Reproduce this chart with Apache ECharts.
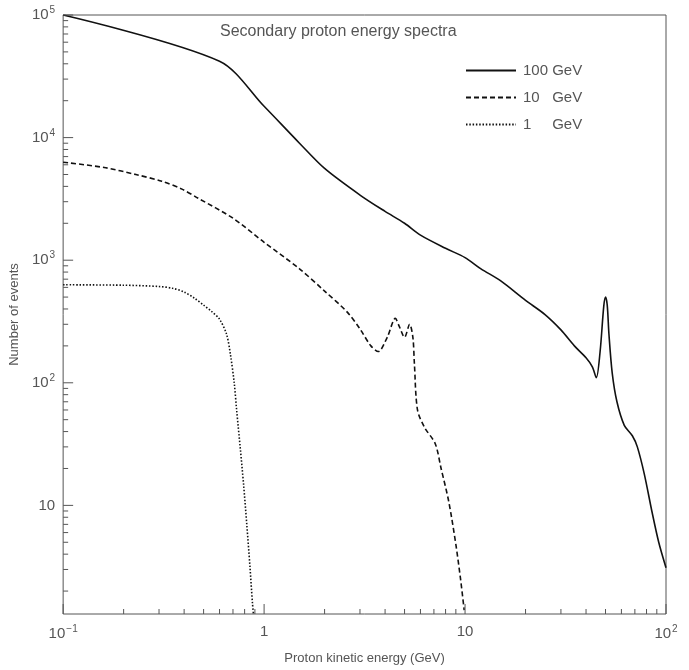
<!DOCTYPE html>
<html>
<head>
<meta charset="utf-8">
<script src="https://cdn.jsdelivr.net/npm/echarts@6/dist/echarts.min.js"></script>
<style>
  html, body { margin: 0; padding: 0; background: #fff; }
  #chart { width: 689px; height: 670px; }
</style>
</head>
<body>
<div id="chart"></div>
<script>
// energy (GeV) / number of events
const e100 = [0.1, 0.6, 1, 1.5, 2, 3, 4, 5, 6, 8, 10, 12, 15, 20, 25, 30, 35, 40, 43, 45, 47, 49, 50, 51, 52, 54, 57, 62, 68, 72, 78, 85, 92, 100]
const n100 = [100000, 42000, 18000, 9000, 5600, 3400, 2500, 2000, 1600, 1250, 1050, 850, 680, 470, 360, 270, 200, 160, 135, 110, 180, 420, 500, 430, 250, 120, 70, 45, 37, 30, 18, 9, 5, 3.1]

const e10 = [0.1, 0.16, 0.23, 0.31, 0.39, 0.47, 0.7, 1, 1.5, 2, 2.6, 3, 3.4, 3.7, 4.1, 4.5, 4.7, 5.0, 5.3, 5.5, 5.6, 5.8, 6.3, 7.1, 7.6, 8.3, 9.0, 9.5, 9.9]
const n10 = [6300, 5700, 5000, 4400, 3800, 3200, 2200, 1400, 850, 560, 375, 275, 200, 180, 235, 335, 290, 235, 300, 235, 140, 60, 43, 32, 20, 10.7, 4.8, 2.5, 1.4]

const e1 = [0.1, 0.2, 0.3, 0.35, 0.4, 0.45, 0.5, 0.55, 0.6, 0.65, 0.68, 0.71, 0.73, 0.76, 0.79, 0.82, 0.85, 0.875, 0.885]
const n1 = [630, 625, 610, 590, 550, 490, 430, 380, 330, 250, 170, 100, 60, 30, 15, 7, 3.2, 1.6, 1.3]

const seriesNames = ['100 GeV', '10   GeV', '1     GeV']

const xMajor = [0.1, 1, 10, 100]
const xMinor = [0.2, 0.3, 0.4, 0.5, 0.6, 0.7, 0.8, 0.9, 2, 3, 4, 5, 6, 7, 8, 9, 20, 30, 40, 50, 60, 70, 80, 90]
const yMajor = [10, 100, 1000, 10000, 100000]
const yMinor = [2, 3, 4, 5, 6, 7, 8, 9, 20, 30, 40, 50, 60, 70, 80, 90,
  200, 300, 400, 500, 600, 700, 800, 900, 2000, 3000, 4000, 5000, 6000, 7000, 8000, 9000,
  20000, 30000, 40000, 50000, 60000, 70000, 80000, 90000]
const xTickText = { '-1': '{b|10}{s|−1}', '0': '{b|1}', '1': '{b|10}', '2': '{b|10}{s|2}' }
const yTickText = { '1': '{b|10}', '2': '{b|10}{s|2}', '3': '{b|10}{s|3}', '4': '{b|10}{s|4}', '5': '{b|10}{s|5}' }

const X_MIN = 0.1, X_MAX = 100, Y_MIN = 1.3, Y_MAX = 100000
const ink = '#111'
const grey = '#555'
const font = 'Liberation Sans'

const pair = (xs, ys) => xs.map((x, i) => [x, ys[i]])

const powerLabel = (table) => (v) => {
  const p = Math.log10(v)
  const r = Math.round(p)
  if (Math.abs(p - r) > 1e-6) return ''
  return table[String(r)] || ''
}

const richLabel = {
  b: { fontSize: 15, color: grey, fontFamily: font },
  s: { fontSize: 10, color: grey, fontFamily: font, verticalAlign: 'top', padding: [0, 0, 9, 1] },
}

// ticks drawn inward from the bottom and left frame lines
const tickSeries = (data, dir) => ({
  type: 'custom',
  silent: true,
  clip: false,
  z: 5,
  data,
  renderItem: (params, api) => {
    const p = api.coord([api.value(0), api.value(1)])
    const len = api.value(2)
    const shape = dir === 'x'
      ? { x1: p[0], y1: p[1], x2: p[0], y2: p[1] - len }
      : { x1: p[0], y1: p[1], x2: p[0] + len, y2: p[1] }
    return { type: 'line', shape, style: { stroke: grey, lineWidth: 1 } }
  },
})

const chart = echarts.init(document.getElementById('chart'))

chart.setOption({
  backgroundColor: '#fff',
  animation: false,
  title: {
    text: 'Secondary proton energy spectra',
    left: 215,
    top: 19,
    textStyle: { fontSize: 16, fontWeight: 'normal', color: grey, fontFamily: font },
  },
  legend: {
    orient: 'vertical',
    left: 460,
    top: 58,
    itemWidth: 50,
    itemHeight: 10,
    itemGap: 12,
    selectedMode: false,
    itemStyle: { opacity: 0 },
    textStyle: { fontSize: 15, color: grey, fontFamily: font, padding: [0, 0, 0, 2] },
    data: seriesNames,
  },
  grid: {
    left: 57,
    right: 23,
    top: 15,
    bottom: 50,
    show: true,
    borderColor: grey,
    borderWidth: 1,
  },
  xAxis: {
    type: 'log',
    logBase: 10,
    min: X_MIN,
    max: X_MAX,
    name: 'Proton kinetic energy (GeV)',
    nameLocation: 'middle',
    nameGap: 38,
    nameTextStyle: { fontSize: 13, color: grey, fontFamily: font },
    axisLine: { show: false },
    axisTick: { show: false },
    splitLine: { show: false },
    axisLabel: {
      margin: 10,
      formatter: powerLabel(xTickText),
      rich: richLabel,
    },
  },
  yAxis: {
    type: 'log',
    logBase: 10,
    min: Y_MIN,
    max: Y_MAX,
    name: 'Number of events',
    nameLocation: 'middle',
    nameGap: 29,
    nameTextStyle: { fontSize: 13, color: grey, fontFamily: font },
    axisLine: { show: false },
    axisTick: { show: false },
    splitLine: { show: false },
    axisLabel: {
      margin: 8,
      formatter: powerLabel(yTickText),
      rich: richLabel,
    },
  },
  series: [
    {
      name: seriesNames[0],
      type: 'line',
      data: pair(e100, n100),
      showSymbol: false,
      symbol: 'none',
      smooth: 0.3,
      lineStyle: { color: ink, width: 1.6, type: 'solid' },
      itemStyle: { color: ink },
    },
    {
      name: seriesNames[1],
      type: 'line',
      data: pair(e10, n10),
      showSymbol: false,
      symbol: 'none',
      smooth: 0.3,
      lineStyle: { color: ink, width: 1.6, type: [5, 3] },
      itemStyle: { color: ink },
    },
    {
      name: seriesNames[2],
      type: 'line',
      data: pair(e1, n1),
      showSymbol: false,
      symbol: 'none',
      smooth: 0.3,
      lineStyle: { color: ink, width: 1.6, type: [1.5, 1.8] },
      itemStyle: { color: ink },
    },
    tickSeries(xMajor.map(v => [v, Y_MIN, 10]), 'x'),
    tickSeries(xMinor.map(v => [v, Y_MIN, 5]), 'x'),
    tickSeries(yMajor.map(v => [X_MIN, v, 10]), 'y'),
    tickSeries(yMinor.map(v => [X_MIN, v, 5]), 'y'),
  ],
})
</script>
</body>
</html>
